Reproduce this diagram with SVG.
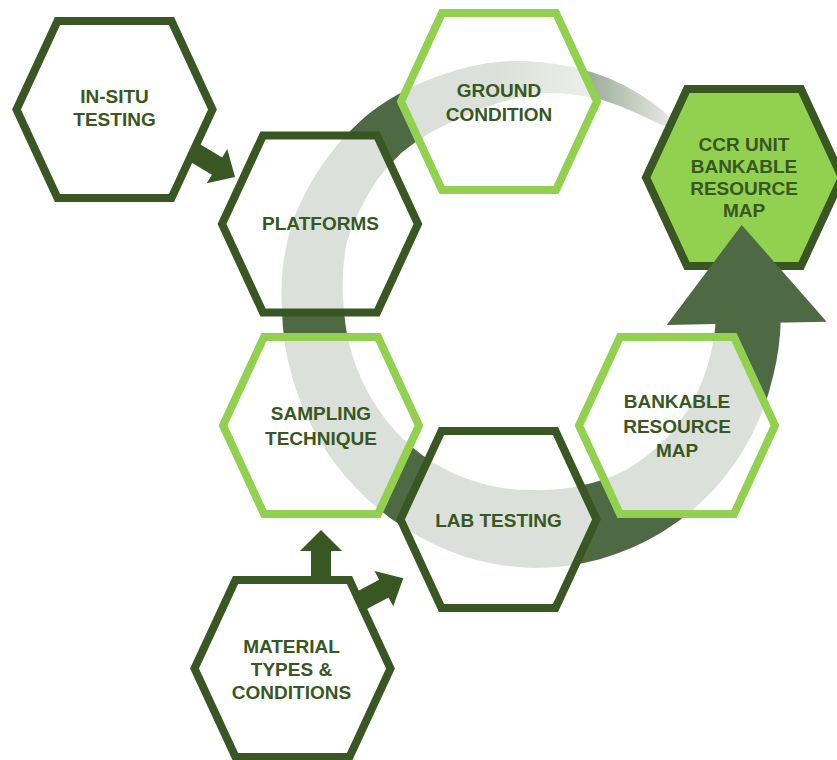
<svg xmlns="http://www.w3.org/2000/svg" xmlns:xlink="http://www.w3.org/1999/xlink" width="837" height="760" viewBox="0 0 837 760">
  <style>
    .ring { fill: #4e6a45; }
    .hx { fill: #ffffff; fill-opacity: 0.8; stroke-width: 8; stroke-linejoin: miter; }
    .dark { stroke: #385723; }
    .light { stroke: #92d050; }
    .opaque { fill-opacity: 1; }
    .ccr { fill: #92d050; fill-opacity: 1; stroke: #385723; }
    .arw { fill: #385723; }
    .lbl { font-family: "Liberation Sans", Arial, sans-serif; font-weight: bold; font-size: 19px; fill: #385723; text-anchor: middle; }
  </style>
  <defs>
    <polygon id="hex" points="-98,0 -57,-88.5 57,-88.5 98,0 57,88.5 -57,88.5"/>
    <linearGradient id="fade" gradientUnits="userSpaceOnUse" x1="500" y1="0" x2="700" y2="0">
      <stop offset="0" stop-color="#4e6a45" stop-opacity="1"/>
      <stop offset="1" stop-color="#4e6a45" stop-opacity="0"/>
    </linearGradient>
  </defs>

  <g id="connectors">
    <path id="ring-main" class="ring" d="M 489.4,62.8 A 254 254 0 0 0 446.8,73.2 A 254 254 0 0 0 406,90 A 254 254 0 0 0 368.4,113.9 A 254 254 0 0 0 336.9,145.5 A 254 254 0 0 0 311.3,182 A 254 254 0 0 0 292.4,222.4 A 254 254 0 0 0 282.9,265.9 A 254 254 0 0 0 282,310 A 254 254 0 0 0 291.5,374.7 A 254 254 0 0 0 316.5,435 A 254 254 0 0 0 355.5,487.5 A 254 254 0 0 0 406.5,529.1 A 254 254 0 0 0 466.7,557.3 A 254 254 0 0 0 533,568 A 254 254 0 0 0 599.8,559.2 A 254 254 0 0 0 661.5,532.6 A 254 254 0 0 0 713.3,490.3 A 254 254 0 0 0 751.2,436 A 254 254 0 0 0 773.5,374.4 A 254 254 0 0 0 780.8,318.7 L 715.9,316.4 A 186 186 0 0 1 709.8,357.4 A 186 186 0 0 1 692.3,402 A 186 186 0 0 1 663.8,440.8 A 186 186 0 0 1 625.5,470.2 A 186 186 0 0 1 580.1,485.8 A 186 186 0 0 1 533,490 A 186 186 0 0 1 486.2,484.8 A 186 186 0 0 1 442,467.6 A 186 186 0 0 1 403.6,439.4 A 186 186 0 0 1 373.6,402 A 186 186 0 0 1 353.3,358.1 A 186 186 0 0 1 344,310 A 190 190 0 0 1 342.9,276.5 A 195 195 0 0 1 346.9,242.3 A 200 200 0 0 1 359.8,210 A 202 202 0 0 1 377.5,179.5 A 204 204 0 0 1 401.2,153 A 205 205 0 0 1 430.5,132.5 A 205 205 0 0 1 462.9,117.4 A 208 208 0 0 1 496.5,103.2 Z"/>
    <path id="ring-tail" fill="url(#fade)" d="M 480.8,64.5 A 250 250 0 0 1 511.2,61 A 249 249 0 0 1 541.7,62.2 A 247 247 0 0 1 575.7,67.7 A 245 245 0 0 1 608.4,77.9 A 242 242 0 0 1 638.6,93.4 A 239 239 0 0 1 662.6,110.4 A 236 236 0 0 1 677.1,125.6 L 673.4,130.3 A 226 226 0 0 0 655,122.1 A 223 223 0 0 0 630.3,110.5 A 221 221 0 0 0 601.3,99.8 A 220 220 0 0 0 571,94.3 A 218 218 0 0 0 540.6,93.1 A 214 214 0 0 0 514.5,98.8 A 210 210 0 0 0 489.5,105.6 Z"/>
    <polygon id="arrow-insitu-platforms" class="arw" transform="translate(235,177) rotate(31)" points="0,0 -21,-20 -21,-10 -55,-10 -55,10 -21,10 -21,20"/>
    <polygon id="arrow-material-sampling" class="arw" points="321,530 342,551 331,551 331,582 311,582 311,551 300,551"/>
    <polygon id="arrow-material-lab" class="arw" transform="translate(403.3,578.3) rotate(-28)" points="0,0 -22,-20 -22,-10 -55,-10 -55,10 -22,10 -22,20"/>
  </g>

  <g id="in-situ-testing">
    <use xlink:href="#hex" class="hx dark opaque" transform="translate(114.5,109.5)"/>
    <text class="lbl" x="114.5" y="103">IN-SITU</text>
    <text class="lbl" x="114.5" y="126">TESTING</text>
  </g>

  <g id="platforms">
    <use xlink:href="#hex" class="hx dark" transform="translate(320,224)"/>
    <text class="lbl" x="320.5" y="230">PLATFORMS</text>
  </g>

  <g id="ground-condition">
    <use xlink:href="#hex" class="hx light" transform="translate(499,101.5)"/>
    <text class="lbl" x="499" y="96.5">GROUND</text>
    <text class="lbl" x="499" y="120.5">CONDITION</text>
  </g>

  <g id="ccr-unit">
    <use xlink:href="#hex" class="hx ccr" transform="translate(744,177.5)"/>
    <text class="lbl" x="744" y="151">CCR UNIT</text>
    <text class="lbl" x="744" y="172.5">BANKABLE</text>
    <text class="lbl" x="744" y="195">RESOURCE</text>
    <text class="lbl" x="744" y="216.5">MAP</text>
  </g>

  <g id="sampling-technique">
    <use xlink:href="#hex" class="hx light" transform="translate(321,425.5)"/>
    <text class="lbl" x="321" y="420">SAMPLING</text>
    <text class="lbl" x="321" y="445">TECHNIQUE</text>
  </g>

  <g id="lab-testing">
    <use xlink:href="#hex" class="hx dark" transform="translate(498.5,519.5)"/>
    <text class="lbl" x="498.5" y="526.5">LAB TESTING</text>
  </g>

  <g id="bankable-resource-map">
    <use xlink:href="#hex" class="hx light" transform="translate(677,425.5)"/>
    <text class="lbl" x="677" y="407.5">BANKABLE</text>
    <text class="lbl" x="677" y="432.5">RESOURCE</text>
    <text class="lbl" x="677" y="456.5">MAP</text>
  </g>

  <g id="material-types">
    <use xlink:href="#hex" class="hx dark opaque" transform="translate(292.5,668.5)"/>
    <text class="lbl" x="291.5" y="653">MATERIAL</text>
    <text class="lbl" x="291.5" y="676">TYPES &amp;</text>
    <text class="lbl" x="291.5" y="698.5">CONDITIONS</text>
  </g>

  <g id="ring-arrowhead">
    <polygon class="ring" points="741.7,225 826.7,321.7 666.7,325"/>
  </g>
</svg>
